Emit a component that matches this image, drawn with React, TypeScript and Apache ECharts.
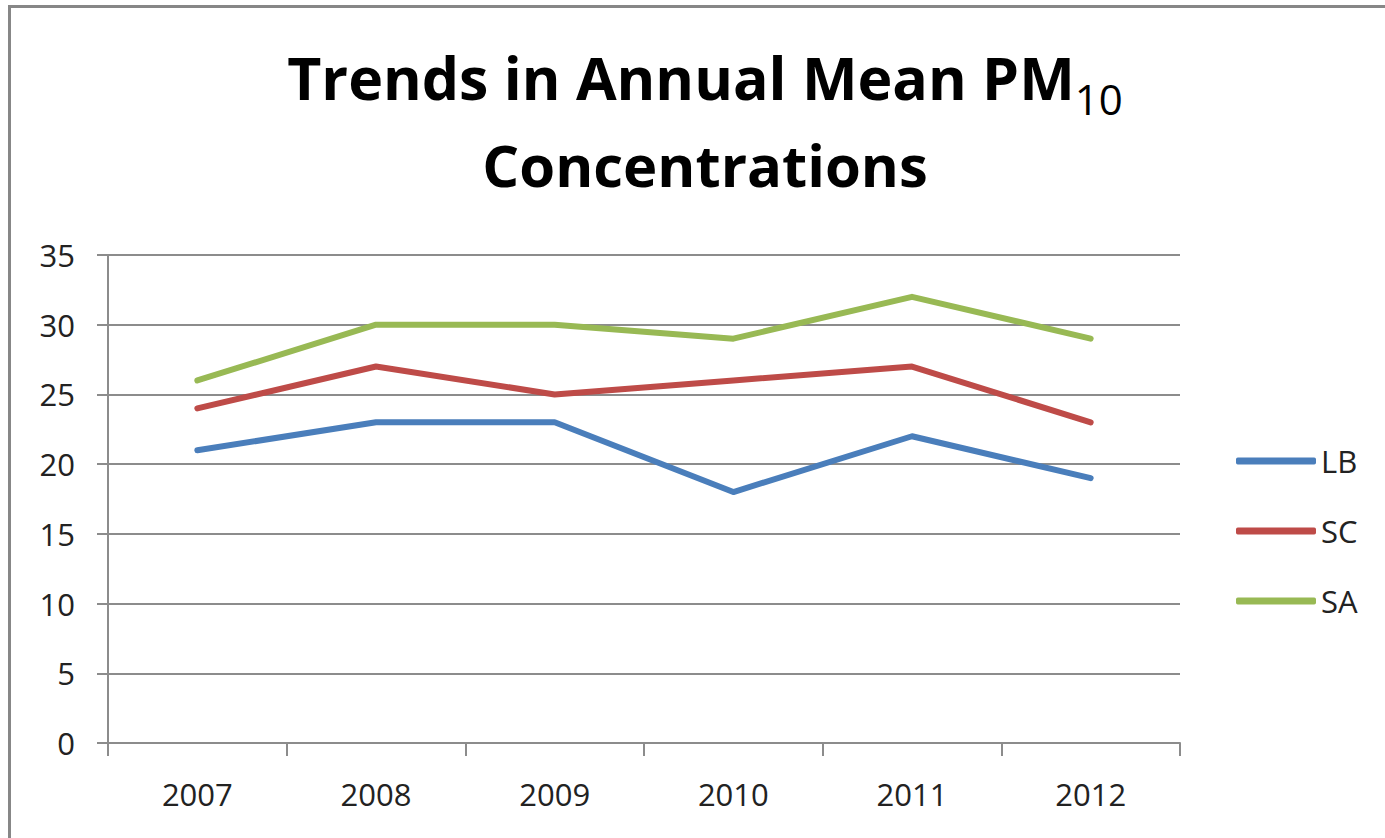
import React, { useEffect, useRef } from "react";
import * as echarts from "echarts";

const years = ["2007", "2008", "2009", "2010", "2011", "2012"];
const seriesNames = ["LB", "SC", "SA"];
const lbValues = [21, 23, 23, 18, 22, 19];
const scValues = [24, 27, 25, 26, 27, 23];
const saValues = [26, 30, 30, 29, 32, 29];
const colors = ["#4A7EBB", "#BE4B48", "#98B954"];
const titleMain = "Trends in Annual Mean PM";
const titleSub = "10";
const titleLine2 = "Concentrations";

const FONT = "'Open Sans', 'Liberation Sans', sans-serif";

export default function App() {
  const ref = useRef<HTMLDivElement>(null);
  useEffect(() => {
    if (!ref.current) return;
    const chart = echarts.init(ref.current, undefined, { renderer: "svg" });
    const values = [lbValues, scValues, saValues];
    chart.setOption({
      animation: false,
      backgroundColor: "#ffffff",
      textStyle: { fontFamily: FONT },
      graphic: [
        {
          type: "rect",
          silent: true,
          shape: { x: 9.5, y: 6.5, width: 1500, height: 1000 },
          style: { fill: "none", stroke: "#878787", lineWidth: 3 },
        },
        {
          type: "text",
          x: 705,
          y: 47,
          style: {
            text: `{m|${titleMain}}{s|${titleSub}}`,
            align: "center",
            verticalAlign: "top",
            rich: {
              m: {
                fontFamily: FONT,
                fontSize: 59,
                fontWeight: "bold",
                fill: "#000",
                lineHeight: 64,
                verticalAlign: "top",
              },
              s: {
                fontFamily: FONT,
                fontSize: 42,
                fill: "#000",
                lineHeight: 72,
                verticalAlign: "bottom",
              },
            },
          },
        },
        {
          type: "text",
          x: 705,
          y: 135,
          style: {
            text: titleLine2,
            align: "center",
            verticalAlign: "top",
            fontFamily: FONT,
            fontSize: 58,
            fontWeight: "bold",
            fill: "#000",
          },
        },
      ],
      legend: {
        orient: "vertical",
        left: 1231,
        top: 421,
        itemGap: 0,
        itemWidth: 80,
        itemHeight: 7,
        icon: "roundRect",
        data: seriesNames,
        textStyle: {
          fontFamily: FONT,
          fontSize: 31,
          color: "#222",
          lineHeight: 70,
        },
      },
      grid: { left: 108, right: 205, top: 255, bottom: 95, containLabel: false },
      xAxis: {
        type: "category",
        data: years,
        boundaryGap: true,
        axisLine: { show: true, lineStyle: { color: "#8c8c8c", width: 2 } },
        axisTick: { show: true, length: 13, lineStyle: { color: "#8c8c8c", width: 2 } },
        axisLabel: { fontFamily: FONT, fontSize: 31, color: "#222", margin: 35 },
        splitLine: { show: false },
      },
      yAxis: {
        type: "value",
        min: 0,
        max: 35,
        interval: 5,
        axisLine: { show: true, lineStyle: { color: "#8c8c8c", width: 2 } },
        axisTick: { show: true, length: 11, lineStyle: { color: "#8c8c8c", width: 2 } },
        axisLabel: { fontFamily: FONT, fontSize: 31, color: "#222", margin: 33 },
        splitLine: { show: true, lineStyle: { color: "#8c8c8c", width: 2 } },
      },
      series: seriesNames.map((name, i) => ({
        name,
        type: "line",
        data: values[i],
        symbol: "none",
        color: colors[i],
        lineStyle: { width: 6, color: colors[i], cap: "round", join: "round" },
        itemStyle: { color: colors[i] },
      })),
    });
    return () => chart.dispose();
  }, []);
  return (
    <div
      ref={ref}
      style={{ position: "fixed", left: 0, top: 0, width: 1385, height: 838 }}
    />
  );
}
